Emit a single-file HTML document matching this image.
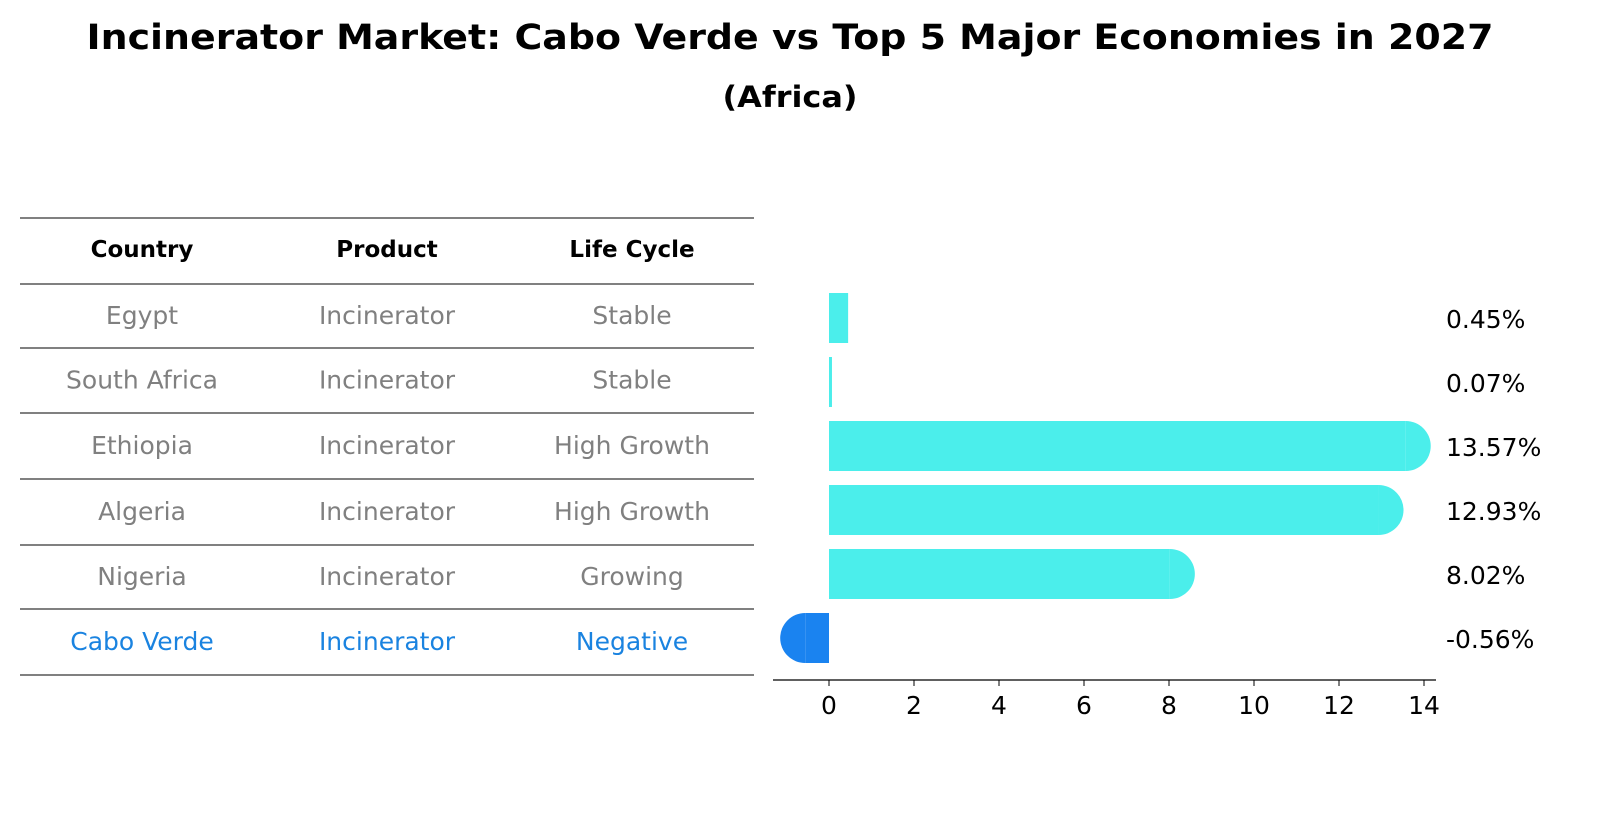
<!DOCTYPE html>
<html><head><meta charset="utf-8"><style>
body{margin:0;background:#fff;font-family:"DejaVu Sans","Liberation Sans",sans-serif;}
svg text{font-family:"DejaVu Sans","Liberation Sans",sans-serif;}
</style></head><body>
<svg id="c" width="1604" height="823" xmlns="http://www.w3.org/2000/svg">
<text x="790" y="49" text-anchor="middle" font-size="35" font-weight="bold" textLength="1407" lengthAdjust="spacingAndGlyphs">Incinerator Market: Cabo Verde vs Top 5 Major Economies in 2027</text>
<text x="790" y="107" text-anchor="middle" font-size="29" font-weight="bold" textLength="135" lengthAdjust="spacingAndGlyphs">(Africa)</text>
<g id="tbl"></g>
<g id="bars"></g>
</svg>
<script>
const countries=["Egypt","South Africa","Ethiopia","Algeria","Nigeria","Cabo Verde"];
const products=["Incinerator","Incinerator","Incinerator","Incinerator","Incinerator","Incinerator"];
const lifeCycles=["Stable","Stable","High Growth","High Growth","Growing","Negative"];
const growth=[0.45,0.07,13.57,12.93,8.02,-0.56];
const ticks=[0,2,4,6,8,10,12,14];
const NS="http://www.w3.org/2000/svg";
function mk(p,t,a,txt){const e=document.createElementNS(NS,t);for(const k in a)e.setAttribute(k,a[k]);if(txt!==undefined)e.textContent=txt;p.appendChild(e);return e;}
const tbl=document.getElementById('tbl');
const lines=[218,284,348,413,479,545,609,675];
lines.forEach((y,i)=>{const l=mk(tbl,'line',{x1:20,x2:754,y1:y,y2:y,stroke:'#000','stroke-width':1});

});
const cx=[142,387,632];
["Country","Product","Life Cycle"].forEach((h,i)=>{const t=mk(tbl,'text',{x:cx[i],y:257,'text-anchor':'middle','font-size':23,'font-weight':'bold'},h);

});
countries.forEach((c,r)=>{const y=(lines[r+1]+lines[r+2])/2+8;const col=r===countries.length-1?'#1a83e0':'#808080';
[c,products[r],lifeCycles[r]].forEach((v,i)=>{const t=mk(tbl,'text',{x:cx[i],y:y,'text-anchor':'middle','font-size':25,fill:col},v);

});});
const g=document.getElementById('bars');
const x0=829,ppu=42.5;const X=v=>x0+v*ppu;
const rowY=i=>318+i*64;const bh=50;
growth.forEach((v,i)=>{const y=rowY(i);const neg=v<0;const col=neg?'#1a83f0':'#4beeeb';
const a=Math.min(X(0),X(v)),w=Math.abs(X(v)-X(0));
const r=mk(g,'rect',{x:a,y:y-bh/2,width:Math.max(w,2),height:bh,fill:col});


if(Math.abs(v)>0.5){const ex=X(v);
const p=mk(g,'path',{d:`M${ex},${y-bh/2} A${bh/2},${bh/2} 0 0 ${neg?0:1} ${ex},${y+bh/2} Z`,fill:col});

}
const t=mk(g,'text',{x:1446,y:y+10,'font-size':25},v.toFixed(2)+'%');

});
const ax=mk(g,'line',{x1:773,x2:1436,y1:680,y2:680,stroke:'#000','stroke-width':1.2});


ticks.forEach(v=>{const l=mk(g,'line',{x1:X(v),x2:X(v),y1:680,y2:686,stroke:'#000'});


const t=mk(g,'text',{x:X(v),y:714,'text-anchor':'middle','font-size':25},v);

});
</script>
</body></html>
